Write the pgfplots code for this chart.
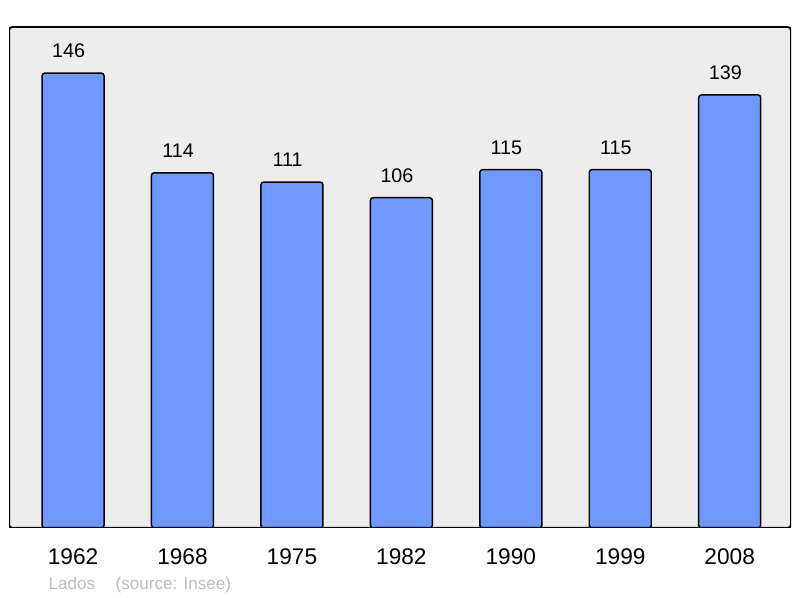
\documentclass[border=0pt]{standalone}
\usepackage{pgfplots}
\pgfplotsset{compat=1.18}
\usepackage{fontspec}
\setmainfont{Liberation Sans}

\definecolor{barblue}{HTML}{7099FF}
\definecolor{panel}{HTML}{EDEDED}
\definecolor{credit}{HTML}{BBBBBB}

\begin{document}
\begin{tikzpicture}
    % page is 800x598 px, 1px = 0.75pt
    \path[use as bounding box] (-6.75pt,-52.5pt) rectangle (593.25pt,396pt);
    \begin{axis}[
        scale only axis,
        width  = 586.5pt,
        height = 375.75pt,
        xmin = -0.585, xmax = 6.56,
        ymin = 0, ymax = 160.8,
        axis line style = {draw=none},
        axis background/.style = {fill=panel, rounded corners=2.5pt},
        ytick = \empty,
        xtick = data,
        xticklabels = {1962,1968,1975,1982,1990,1999,2008},
        major tick length = 0pt,
        xticklabel style = {font=\fontsize{17}{20}\selectfont, yshift=-11.75pt},
        ybar,
        bar width = 46.5pt,
        nodes near coords,
        every node near coord/.append style = {
            font=\fontsize{14.8}{17}\selectfont, black, yshift=7.5pt, xshift=-3.3pt},
        /pgf/number format/assume math mode=true,
    ]
        \addplot[fill=barblue, draw=black, line width=1.1pt, rounded corners=2pt]
        coordinates {
            (0,146) (1,114) (2,111) (3,106) (4,115) (5,115) (6,139)
        };
        \draw[line width=1.5pt, rounded corners=2.5pt]
            (rel axis cs:0,0) rectangle (rel axis cs:1,1);
    \end{axis}
    \node[anchor=base west, text=credit, font=\fontsize{12.8}{15}\selectfont, inner sep=0pt]
        at (29.5pt,-46.5pt) {Lados\hspace{15.5pt}(source: Insee)};
\end{tikzpicture}
\end{document}
